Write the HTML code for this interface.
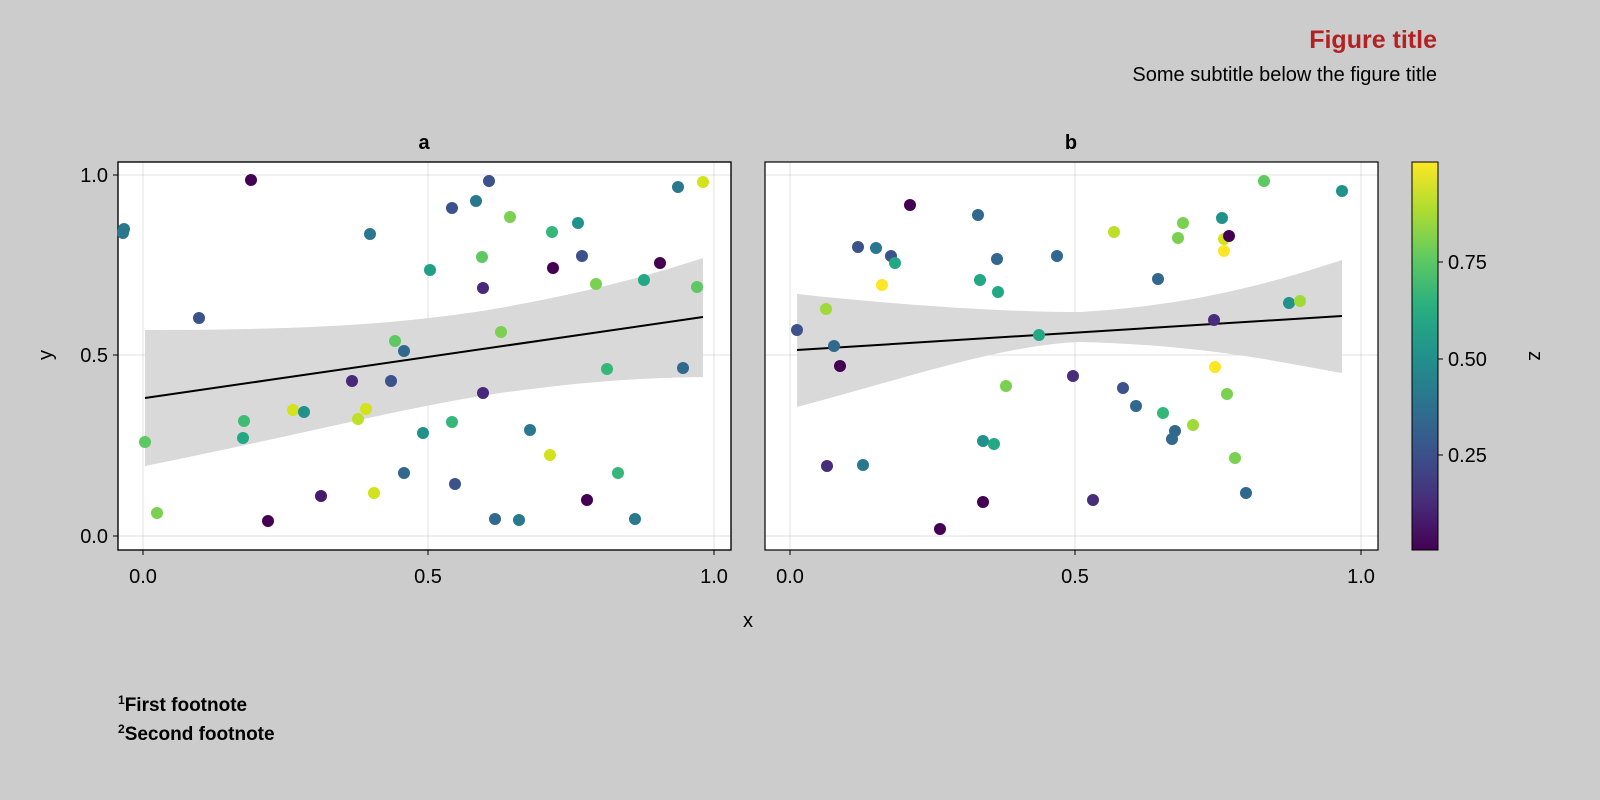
<!DOCTYPE html>
<html><head><meta charset="utf-8"><style>
body{margin:0;background:#cccccc;}
svg{display:block;font-family:"Liberation Sans",sans-serif;}
</style></head><body>
<svg width="1600" height="800" viewBox="0 0 1600 800" xmlns="http://www.w3.org/2000/svg">
<rect width="1600" height="800" fill="#cccccc"/>
<text x="1437" y="48" text-anchor="end" font-size="25" font-weight="bold" fill="#b22222">Figure title</text>
<text x="1437" y="81" text-anchor="end" font-size="20" fill="#000">Some subtitle below the figure title</text>
<text x="424" y="149" text-anchor="middle" font-size="20" font-weight="bold">a</text>
<text x="1071" y="149" text-anchor="middle" font-size="20" font-weight="bold">b</text>
<rect x="118" y="162" width="613" height="388" fill="#fff" stroke="#000" stroke-width="1.2"/>
<g stroke="#000" stroke-opacity="0.12" stroke-width="1">
<line x1="143" y1="162" x2="143" y2="550"/><line x1="428" y1="162" x2="428" y2="550"/><line x1="714" y1="162" x2="714" y2="550"/>
<line x1="118" y1="175" x2="731" y2="175"/><line x1="118" y1="355" x2="731" y2="355"/><line x1="118" y1="536" x2="731" y2="536"/>
</g>
<path d="M145,330 C300,330 400,325 500,308 C600,290 660,272 703,258 L703,377 C620,378 560,385 500,393 C400,408 300,435 145,466 Z" fill="#d9d9d9"/>
<line x1="145" y1="398" x2="703" y2="317" stroke="#000" stroke-width="2"/>
<g stroke="#000" stroke-width="1"><line x1="113" y1="175" x2="118" y2="175"/><line x1="113" y1="355" x2="118" y2="355"/><line x1="113" y1="536" x2="118" y2="536"/>
<line x1="143" y1="550" x2="143" y2="555"/><line x1="428" y1="550" x2="428" y2="555"/><line x1="714" y1="550" x2="714" y2="555"/>
<line x1="790" y1="550" x2="790" y2="555"/><line x1="1075" y1="550" x2="1075" y2="555"/><line x1="1361" y1="550" x2="1361" y2="555"/></g>
<g font-size="20" text-anchor="end"><text x="108" y="182">1.0</text><text x="108" y="362">0.5</text><text x="108" y="543">0.0</text></g>
<g font-size="20" text-anchor="middle"><text x="143" y="583">0.0</text><text x="428" y="583">0.5</text><text x="714" y="583">1.0</text>
<text x="790" y="583">0.0</text><text x="1075" y="583">0.5</text><text x="1361" y="583">1.0</text>
<text x="748" y="627">x</text></g>
<text x="45" y="355" font-size="20" text-anchor="middle" transform="rotate(-90 45 355)" dy="7">y</text>
<rect x="765" y="162" width="613" height="388" fill="#fff"/>
<g stroke="#000" stroke-opacity="0.12" stroke-width="1">
<line x1="765" y1="175" x2="1378" y2="175"/><line x1="765" y1="355" x2="1378" y2="355"/><line x1="765" y1="536" x2="1378" y2="536"/>
<line x1="790" y1="162" x2="790" y2="550"/><line x1="1075" y1="162" x2="1075" y2="550"/><line x1="1361" y1="162" x2="1361" y2="550"/>
</g>
<path d="M797,294 C900,305 1000,312 1080,312 C1200,305 1280,280 1342,260 L1342,373 C1270,360 1200,345 1080,342 C1000,345 900,380 797,407 Z" fill="#d9d9d9"/>
<line x1="797" y1="350" x2="1342" y2="316" stroke="#000" stroke-width="2"/>
<rect x="765" y="162" width="613" height="388" fill="none" stroke="#000" stroke-width="1.2"/>
<rect x="118" y="162" width="613" height="388" fill="none" stroke="#000" stroke-width="1.2"/>
<g>
<circle cx="251" cy="180" r="6" fill="#440154"/><circle cx="123" cy="233" r="6" fill="#2a788e"/><circle cx="124" cy="229" r="6" fill="#2a788e"/>
<circle cx="145" cy="442" r="6" fill="#5ec962"/><circle cx="157" cy="513" r="6" fill="#7ad151"/><circle cx="199" cy="318" r="6" fill="#3b528b"/>
<circle cx="244" cy="421" r="6" fill="#3fbc73"/><circle cx="243" cy="438" r="6" fill="#22a884"/><circle cx="293" cy="410" r="6" fill="#d2e21b"/>
<circle cx="304" cy="412" r="6" fill="#21918c"/><circle cx="268" cy="521" r="6" fill="#440154"/><circle cx="321" cy="496" r="6" fill="#481a6c"/>
<circle cx="370" cy="234" r="6" fill="#2a788e"/><circle cx="352" cy="381" r="6" fill="#482878"/><circle cx="358" cy="419" r="6" fill="#bddf26"/>
<circle cx="366" cy="409" r="6" fill="#d2e21b"/><circle cx="374" cy="493" r="6" fill="#d2e21b"/><circle cx="391" cy="381" r="6" fill="#3b528b"/>
<circle cx="395" cy="341" r="6" fill="#5ec962"/><circle cx="404" cy="351" r="6" fill="#31688e"/><circle cx="404" cy="473" r="6" fill="#31688e"/>
<circle cx="423" cy="433" r="6" fill="#21918c"/><circle cx="430" cy="270" r="6" fill="#1fa187"/><circle cx="452" cy="208" r="6" fill="#3b528b"/>
<circle cx="455" cy="484" r="6" fill="#3b528b"/><circle cx="452" cy="422" r="6" fill="#35b779"/><circle cx="476" cy="201" r="6" fill="#2a788e"/>
<circle cx="489" cy="181" r="6" fill="#3b528b"/><circle cx="482" cy="257" r="6" fill="#5ec962"/><circle cx="483" cy="288" r="6" fill="#482878"/>
<circle cx="483" cy="393" r="6" fill="#482878"/><circle cx="501" cy="332" r="6" fill="#7ad151"/><circle cx="495" cy="519" r="6" fill="#31688e"/>
<circle cx="510" cy="217" r="6" fill="#7ad151"/><circle cx="519" cy="520" r="6" fill="#2a788e"/><circle cx="530" cy="430" r="6" fill="#2a788e"/>
<circle cx="553" cy="268" r="6" fill="#440154"/><circle cx="552" cy="232" r="6" fill="#35b779"/><circle cx="550" cy="455" r="6" fill="#d2e21b"/>
<circle cx="578" cy="223" r="6" fill="#21918c"/><circle cx="582" cy="256" r="6" fill="#3b528b"/><circle cx="587" cy="500" r="6" fill="#440154"/>
<circle cx="596" cy="284" r="6" fill="#7ad151"/><circle cx="607" cy="369" r="6" fill="#35b779"/><circle cx="618" cy="473" r="6" fill="#35b779"/>
<circle cx="635" cy="519" r="6" fill="#2a788e"/><circle cx="644" cy="280" r="6" fill="#22a884"/><circle cx="660" cy="263" r="6" fill="#440154"/>
<circle cx="678" cy="187" r="6" fill="#2a788e"/><circle cx="683" cy="368" r="6" fill="#31688e"/><circle cx="697" cy="287" r="6" fill="#5ec962"/>
<circle cx="703" cy="182" r="6" fill="#d2e21b"/>
<circle cx="797" cy="330" r="6" fill="#3b528b"/><circle cx="826" cy="309" r="6" fill="#a0da39"/><circle cx="827" cy="466" r="6" fill="#472d7b"/>
<circle cx="834" cy="346" r="6" fill="#31688e"/><circle cx="840" cy="366" r="6" fill="#440154"/><circle cx="858" cy="247" r="6" fill="#3b528b"/>
<circle cx="863" cy="465" r="6" fill="#2a788e"/><circle cx="876" cy="248" r="6" fill="#2a788e"/><circle cx="882" cy="285" r="6" fill="#fde725"/>
<circle cx="891" cy="256" r="6" fill="#3b528b"/><circle cx="895" cy="263" r="6" fill="#22a884"/><circle cx="910" cy="205" r="6" fill="#440154"/>
<circle cx="940" cy="529" r="6" fill="#440154"/><circle cx="978" cy="215" r="6" fill="#31688e"/><circle cx="980" cy="280" r="6" fill="#22a884"/>
<circle cx="983" cy="441" r="6" fill="#21918c"/><circle cx="983" cy="502" r="6" fill="#440154"/><circle cx="994" cy="444" r="6" fill="#22a884"/>
<circle cx="997" cy="259" r="6" fill="#31688e"/><circle cx="998" cy="292" r="6" fill="#22a884"/><circle cx="1006" cy="386" r="6" fill="#7ad151"/>
<circle cx="1039" cy="335" r="6" fill="#22a884"/><circle cx="1057" cy="256" r="6" fill="#31688e"/><circle cx="1073" cy="376" r="6" fill="#472d7b"/>
<circle cx="1093" cy="500" r="6" fill="#472d7b"/><circle cx="1114" cy="232" r="6" fill="#bddf26"/><circle cx="1123" cy="388" r="6" fill="#3b528b"/>
<circle cx="1136" cy="406" r="6" fill="#31688e"/><circle cx="1158" cy="279" r="6" fill="#31688e"/><circle cx="1163" cy="413" r="6" fill="#35b779"/>
<circle cx="1175" cy="431" r="6" fill="#31688e"/><circle cx="1172" cy="439" r="6" fill="#31688e"/><circle cx="1178" cy="238" r="6" fill="#7ad151"/><circle cx="1183" cy="223" r="6" fill="#7ad151"/>
<circle cx="1193" cy="425" r="6" fill="#a0da39"/><circle cx="1214" cy="320" r="6" fill="#472d7b"/><circle cx="1215" cy="367" r="6" fill="#fde725"/>
<circle cx="1222" cy="218" r="6" fill="#21918c"/><circle cx="1224" cy="251" r="6" fill="#fde725"/><circle cx="1224" cy="239" r="6" fill="#d2e21b"/>
<circle cx="1229" cy="236" r="6" fill="#440154"/><circle cx="1227" cy="394" r="6" fill="#7ad151"/><circle cx="1235" cy="458" r="6" fill="#7ad151"/>
<circle cx="1246" cy="493" r="6" fill="#31688e"/><circle cx="1264" cy="181" r="6" fill="#5ec962"/><circle cx="1289" cy="303" r="6" fill="#21918c"/>
<circle cx="1300" cy="301" r="6" fill="#a0da39"/><circle cx="1342" cy="191" r="6" fill="#21918c"/>
</g>
<defs><linearGradient id="vir" x1="0" y1="1" x2="0" y2="0">
<stop offset="0" stop-color="#440154"/><stop offset="0.125" stop-color="#472d7b"/><stop offset="0.25" stop-color="#3b528b"/><stop offset="0.375" stop-color="#2c728e"/><stop offset="0.5" stop-color="#21918c"/><stop offset="0.625" stop-color="#28ae80"/><stop offset="0.75" stop-color="#5ec962"/><stop offset="0.875" stop-color="#addc30"/><stop offset="1" stop-color="#fde725"/></linearGradient></defs>
<rect x="1412" y="162" width="26" height="388" fill="url(#vir)" stroke="#000" stroke-width="1"/>
<g stroke="#000"><line x1="1438" y1="262" x2="1443" y2="262"/><line x1="1438" y1="359" x2="1443" y2="359"/><line x1="1438" y1="455" x2="1443" y2="455"/></g>
<g font-size="20"><text x="1448" y="269">0.75</text><text x="1448" y="366">0.50</text><text x="1448" y="462">0.25</text></g>
<text x="1536" y="356" font-size="20" text-anchor="middle" transform="rotate(90 1536 356)" dy="7">z</text>
<g font-size="19" font-weight="bold"><text x="118" y="711"><tspan font-size="12" dy="-7">1</tspan><tspan dy="7">First footnote</tspan></text>
<text x="118" y="740"><tspan font-size="12" dy="-7">2</tspan><tspan dy="7">Second footnote</tspan></text></g>
</svg>
</body></html>
